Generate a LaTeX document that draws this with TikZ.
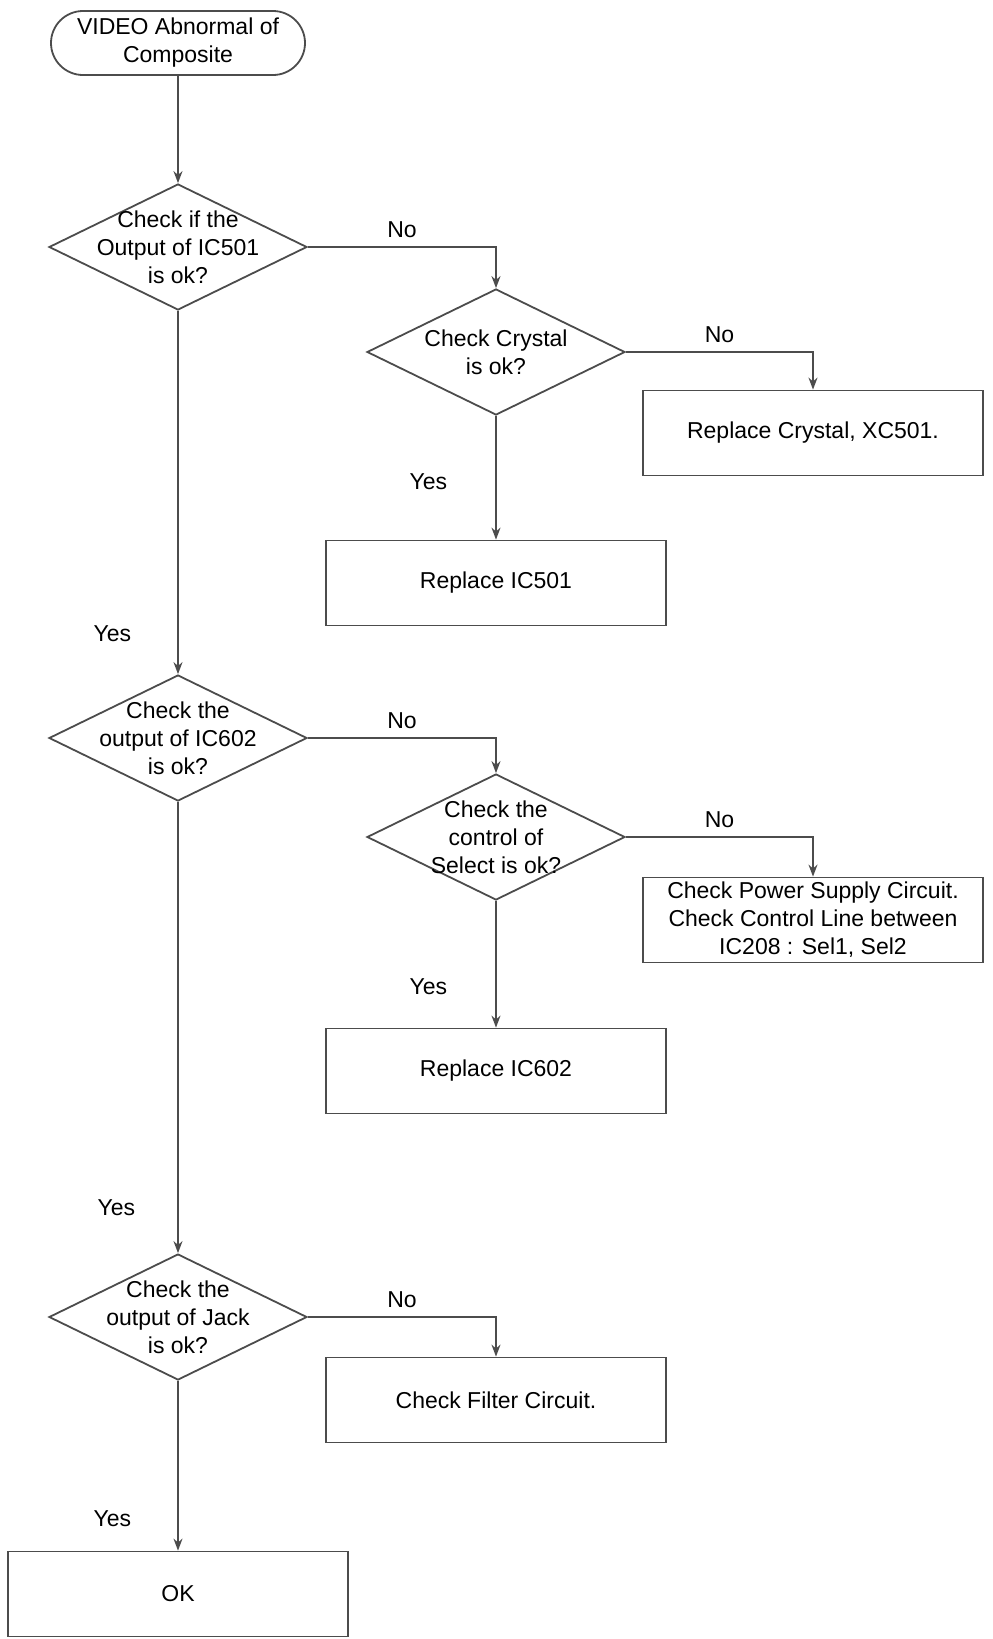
\documentclass[tikz,border=0pt]{standalone}
\usepackage{fontspec}
\setmainfont{Liberation Sans}
\usetikzlibrary{shapes.geometric,arrows.meta,positioning}

\tikzset{
  flow/.style={draw=black!70, line width=0.9pt},
  arr/.style={flow, -{Stealth[length=6pt,width=4.5pt]}},
  start/.style={flow, rectangle, rounded corners=16pt, minimum width=127pt, minimum height=32pt, inner sep=0pt, align=center},
  decision/.style={flow, diamond, minimum width=129pt, minimum height=63pt, inner sep=0pt},
  action/.style={flow, rectangle, minimum width=170pt, minimum height=42.5pt, inner sep=0pt, align=center},
  answer/.style={inner sep=0pt},
  every label/.style={align=center, inner sep=0pt}
}

\begin{document}
\begin{tikzpicture}[x=0.5pt, y=-0.5pt, font=\fontsize{11.5}{14}\selectfont]
\useasboundingbox (0,0) rectangle (992,1639);

% main column
\node[start] (start) at (178,43) {VIDEO Abnormal of\\Composite};
\node[decision, label=center:{Check if the\\Output of IC501\\is ok?}] (ic501chk) at (178,247) {};
\node[decision, label=center:{Check the\\output of IC602\\is ok?}] (ic602chk) at (178,738) {};
\node[decision, label=center:{Check the\\output of Jack\\is ok?}] (jackchk) at (178,1317) {};
\node[action] (ok) at (178,1594) {OK};

% second column
\node[decision, label=center:{Check Crystal\\is ok?}] (xtalchk) at (496,352) {};
\node[action] (repic501) at (496,583) {Replace IC501};
\node[decision, label=center:{Check the\\control of\\Select is ok?}] (selchk) at (496,837) {};
\node[action] (repic602) at (496,1071) {Replace IC602};
\node[action] (filter) at (496,1400) {Check Filter Circuit.};

% third column
\node[action] (repxtal) at (813,433) {Replace Crystal, XC501.};
\node[action] (power) at (813,920) {Check Power Supply Circuit.\\Check Control Line between\\IC208 : Sel1, Sel2};

\draw[arr] (start) -- (ic501chk);
\draw[arr] (ic501chk.east) -| node[answer, pos=0.25, above=4pt]{No} (xtalchk.north);
\draw[arr] (xtalchk.east) -| node[answer, pos=0.25, above=4pt]{No} (repxtal.north);
\draw[arr] (xtalchk.south) -- node[answer, pos=0.53, left=24pt]{Yes} (repic501.north);
\draw[arr] (ic501chk.south) -- node[answer, pos=0.89, left=23pt]{Yes} (ic602chk.north);

\draw[arr] (ic602chk.east) -| node[answer, pos=0.25, above=4pt]{No} (selchk.north);
\draw[arr] (selchk.east) -| node[answer, pos=0.25, above=4pt]{No} (power.north);
\draw[arr] (selchk.south) -- node[answer, pos=0.68, left=24pt]{Yes} (repic602.north);
\draw[arr] (ic602chk.south) -- node[answer, pos=0.9, left=21pt]{Yes} (jackchk.north);

\draw[arr] (jackchk.east) -| node[answer, pos=0.25, above=4pt]{No} (filter.north);
\draw[arr] (jackchk.south) -- node[answer, pos=0.81, left=23pt]{Yes} (ok.north);

\end{tikzpicture}
\end{document}
